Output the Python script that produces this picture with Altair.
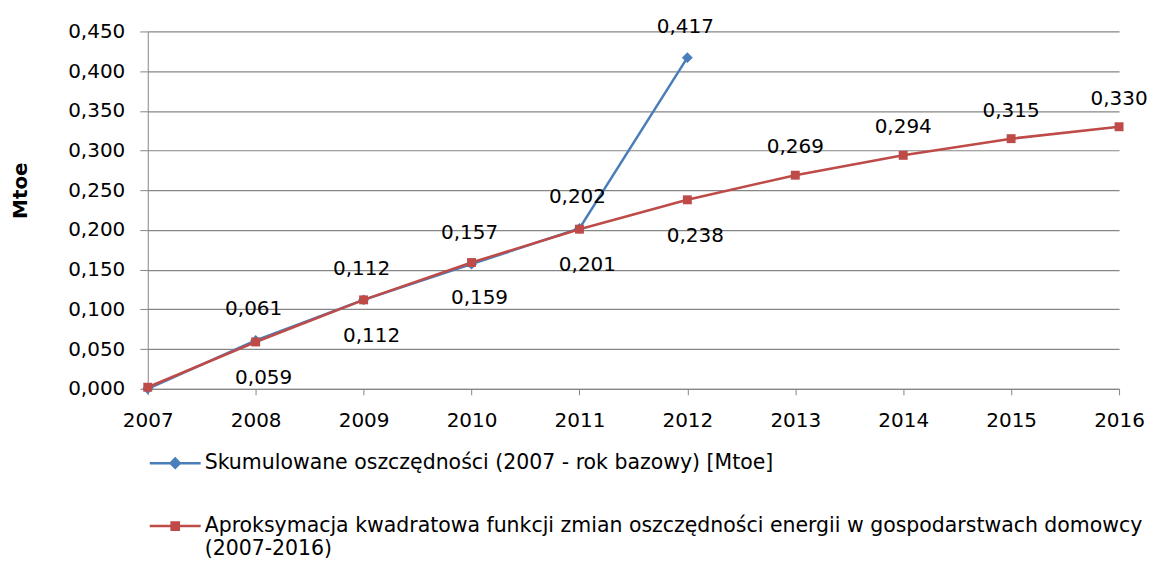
import altair as alt
import pandas as pd

# ---- data ----
years = [2007, 2008, 2009, 2010, 2011, 2012, 2013, 2014, 2015, 2016]
saved_years = [2007, 2008, 2009, 2010, 2011, 2012]
saved_values = [0.000, 0.061, 0.112, 0.157, 0.202, 0.417]
approx_values = [0.002, 0.059, 0.112, 0.159, 0.201, 0.238, 0.269, 0.294, 0.315, 0.330]
series_names = [
    "Skumulowane oszczędności (2007 - rok bazowy) [Mtoe]",
    "Aproksymacja kwadratowa funkcji zmian oszczędności energii w gospodarstwach domowcy (2007-2016)",
]
legend_line2 = ["Aproksymacja kwadratowa funkcji zmian oszczędności energii w gospodarstwach domowcy",
                "(2007-2016)"]
y_ticks = [0.0, 0.05, 0.10, 0.15, 0.20, 0.25, 0.30, 0.35, 0.40, 0.45]
colors = ["#4A7EBB", "#BE4B48"]


def fmt(v):
    return f"{v:.3f}".replace(".", ",")


rows = []
for yr, v in zip(saved_years, saved_values):
    rows.append({"year": yr, "value": v, "series": series_names[0], "label": fmt(v)})
for yr, v in zip(years, approx_values):
    rows.append({"year": yr, "value": v, "series": series_names[1], "label": fmt(v)})
df = pd.DataFrame(rows)

FONT = "DejaVu Sans"
FS = 20
GRID = "#868686"

x = alt.X(
    "year:Q",
    scale=alt.Scale(domain=[2007, 2016], nice=False, zero=False),
    axis=alt.Axis(values=years, format="d", title=None, grid=False,
                  domainColor=GRID, tickColor=GRID, tickSize=6,
                  labelFont=FONT, labelFontSize=FS, labelColor="black",
                  labelPadding=16, labelFlush=False),
)
y = alt.Y(
    "value:Q",
    scale=alt.Scale(domain=[0, 0.45], nice=False, zero=True),
    axis=alt.Axis(values=y_ticks,
                  labelExpr="replace(format(datum.value, '.3f'), '.', ',')",
                  title="Mtoe", titleFont=FONT, titleFontSize=20, titleFontWeight="bold",
                  titleColor="black", titleAngle=-90, titleX=-127, titleY=159,
                  titleAlign="center", titleBaseline="middle",
                  grid=True, gridColor=GRID, gridWidth=1.2,
                  domainColor=GRID, tickColor=GRID, tickSize=8,
                  labelFont=FONT, labelFontSize=FS, labelColor="black",
                  labelPadding=15),
)
color_scale = alt.Scale(domain=series_names, range=colors)

# ---- legend (line + marker symbols), built from the colour/shape scales ----
line_part = "M-1,-0.05H1V0.05H-1Z"
diamond_path = line_part + "M0,-0.25L0.25,0L0,0.25L-0.25,0Z"
square_path = line_part + "M-0.19,-0.19H0.19V0.19H-0.19Z"

label_expr = (
    "datum.label == '" + series_names[1] + "' ? ['" + legend_line2[0] + "', '"
    + legend_line2[1] + "'] : datum.label"
)
leg = alt.Legend(
    title=None, orient="none", legendX=2, legendY=407, direction="vertical",
    symbolSize=2600, symbolStrokeWidth=0, symbolOpacity=1,
    labelFont=FONT, labelFontSize=20.5, labelColor="black", labelLimit=1200,
    labelExpr=label_expr, labelOffset=4, padding=0, rowPadding=27,
    labelBaseline="middle",
)
legend_layer = alt.Chart(df).transform_filter("false").mark_point(
    filled=True, opacity=1).encode(
    x=x, y=y,
    color=alt.Color("series:N", scale=color_scale, legend=leg),
    shape=alt.Shape("series:N",
                    scale=alt.Scale(domain=series_names, range=[diamond_path, square_path]),
                    legend=leg),
)

base = alt.Chart(df).encode(
    x=x, y=y, color=alt.Color("series:N", scale=color_scale, legend=None)
)
lines = base.mark_line(strokeWidth=2.5)
diamonds = base.transform_filter(alt.datum.series == series_names[0]).mark_point(
    shape="diamond", filled=True, size=120, opacity=1)
squares = base.transform_filter(alt.datum.series == series_names[1]).mark_point(
    shape="square", filled=True, size=80, opacity=1)

# ---- data labels ----
tbase = alt.Chart(df).encode(x=x, y=y, text="label:N")
txt_style = dict(font=FONT, fontSize=FS, color="black", baseline="middle", align="center")
blue_labels = tbase.transform_filter(
    (alt.datum.series == series_names[0]) & (alt.datum.year > 2007)
).mark_text(dy=-31, dx=-2, **txt_style)
red_below = tbase.transform_filter(
    (alt.datum.series == series_names[1]) & (alt.datum.year > 2007) & (alt.datum.year <= 2012)
).mark_text(dy=36, dx=8, **txt_style)
red_above = tbase.transform_filter(
    (alt.datum.series == series_names[1]) & (alt.datum.year > 2012)
).mark_text(dy=-28, dx=0, **txt_style)

chart = alt.layer(
    legend_layer, lines, diamonds, squares, blue_labels, red_below, red_above
).properties(
    width=973, height=358,
    autosize=alt.AutoSizeParams(type="none"),
    padding={"left": 140, "top": 23, "right": 30, "bottom": 175},
).configure_view(strokeWidth=0)

chart.save("out.html", embed_options={"renderer": "svg", "actions": False})
